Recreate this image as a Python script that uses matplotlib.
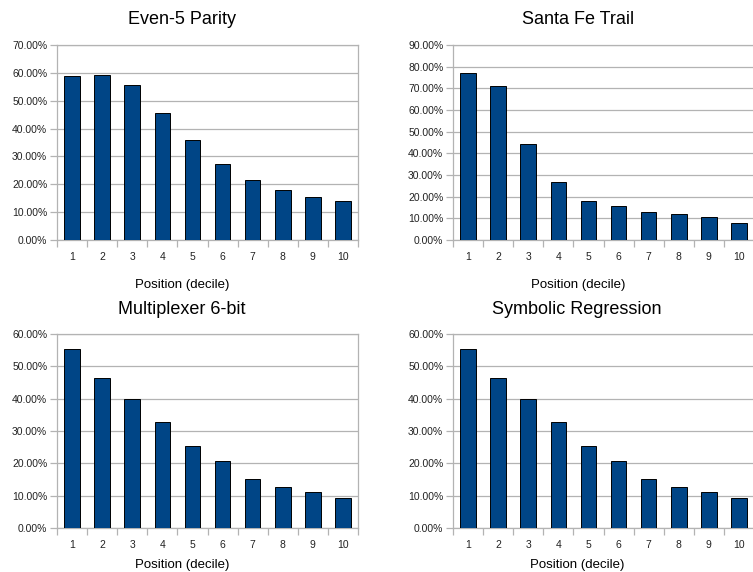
import numpy as np
import matplotlib
matplotlib.use("Agg")
import matplotlib.pyplot as plt
from matplotlib.ticker import FuncFormatter, FixedLocator

plt.rcParams['font.family'] = ['Liberation Sans', 'DejaVu Sans']

deciles = [1, 2, 3, 4, 5, 6, 7, 8, 9, 10]

even5_parity = [59.0, 59.2, 55.8, 45.7, 36.0, 27.2, 21.6, 18.0, 15.6, 13.9]
santa_fe = [77.0, 71.0, 44.2, 26.7, 18.2, 15.9, 13.1, 12.0, 10.5, 8.0]
multiplexer = [55.3, 46.5, 40.0, 32.7, 25.5, 20.6, 15.3, 12.6, 11.1, 9.4]
symbolic_reg = [55.3, 46.5, 40.0, 32.7, 25.5, 20.6, 15.3, 12.6, 11.1, 9.4]

titles = ['Even-5 Parity', 'Santa Fe Trail', 'Multiplexer 6-bit', 'Symbolic Regression']
series = [even5_parity, santa_fe, multiplexer, symbolic_reg]
ymaxes = [70, 90, 60, 60]

W, H = 753, 572
fig = plt.figure(figsize=(W / 100, H / 100), dpi=100)

# axes boxes in pixels: left, top, right, bottom
boxes = [(57, 45, 358, 240), (453, 45, 754, 240),
         (57, 334, 358, 528), (453, 334, 754, 528)]
title_pos = [(182, 20), (578, 20), (182, 310), (577, 310)]

bar_color = '#004586'
grid_color = '#b3b3b3'

for i, (vals, title, ymax) in enumerate(zip(series, titles, ymaxes)):
    l, t, r, b = boxes[i]
    ax = fig.add_axes([l / W, 1 - b / H, (r - l) / W, (b - t) / H])
    ax.bar(deciles, vals, width=0.52, color=bar_color, edgecolor='black',
           linewidth=0.7, zorder=3)
    ax.set_xlim(0.5, 10.5)
    ax.set_ylim(0, ymax)
    ax.set_yticks(np.arange(0, ymax + 1, 10))
    ax.yaxis.set_major_formatter(FuncFormatter(lambda v, p: f'{v:.2f}%'))
    ax.yaxis.grid(True, color=grid_color, linewidth=0.9, zorder=0)
    ax.set_xticks(deciles)
    ax.set_xticklabels([str(d) for d in deciles])
    ax.xaxis.set_minor_locator(FixedLocator(np.arange(0.5, 11, 1)))
    ax.tick_params(axis='x', which='major', length=0, pad=9, labelsize=7.5, colors='#222222')
    ax.tick_params(axis='x', which='minor', length=5, width=0.9, color=grid_color, direction='out')
    ax.tick_params(axis='y', which='major', length=5, width=0.9, color=grid_color,
                   labelsize=7.5, labelcolor='#222222', pad=2)
    for s in ax.spines.values():
        s.set_color(grid_color)
        s.set_linewidth(0.9)
    if i % 2 == 1:
        ax.spines['right'].set_visible(False)
    tx, ty = title_pos[i]
    fig.text(tx / W, 1 - ty / H, title, ha='center', va='center', fontsize=13)
    xly = 285 if i < 2 else 565
    fig.text(tx / W, 1 - xly / H, 'Position (decile)', ha='center', va='center', fontsize=9.5)

fig.savefig('out.png', dpi=100)
